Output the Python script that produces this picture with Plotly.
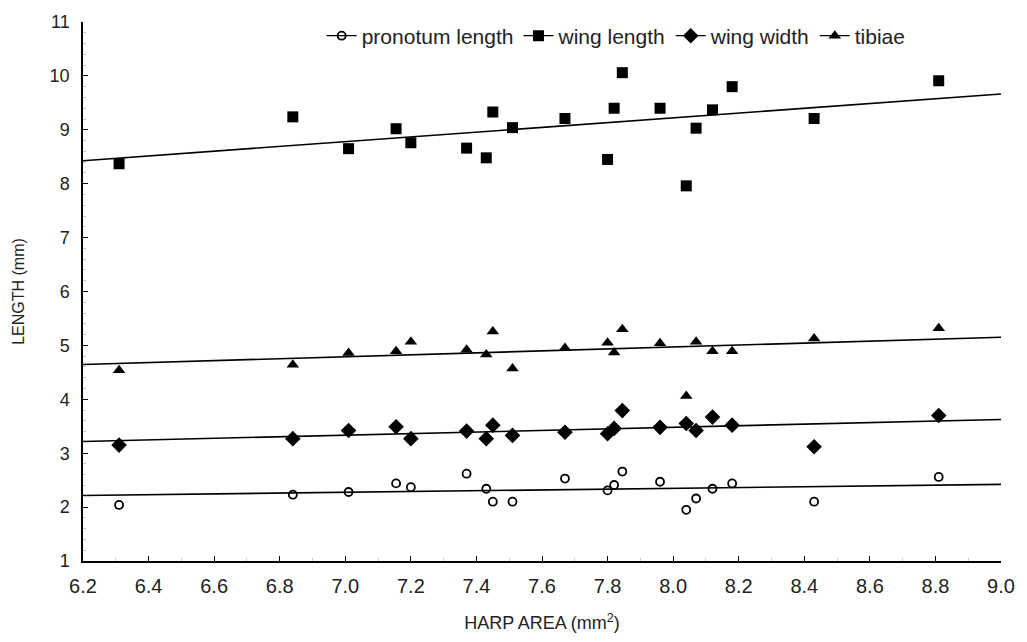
import numpy as np
import plotly.graph_objects as go

# Harp area of each specimen (mm^2)
harp_area = [6.31, 6.84, 7.01, 7.155, 7.20, 7.37, 7.43, 7.45, 7.51, 7.67,
             7.80, 7.82, 7.845, 7.96, 8.04, 8.07, 8.12, 8.18, 8.43, 8.81]

# Body measurements (mm) for the same specimens
pronotum_length = [2.04, 2.23, 2.28, 2.44, 2.37, 2.62, 2.34, 2.10, 2.10, 2.53,
                   2.31, 2.41, 2.66, 2.47, 1.95, 2.16, 2.34, 2.44, 2.10, 2.56]
wing_length = [8.37, 9.24, 8.65, 9.02, 8.76, 8.66, 8.48, 9.33, 9.04, 9.21,
               8.45, 9.40, 10.06, 9.40, 7.96, 9.03, 9.37, 9.80, 9.21, 9.91]
wing_width = [3.15, 3.27, 3.42, 3.49, 3.27, 3.41, 3.27, 3.52, 3.33, 3.39,
              3.36, 3.46, 3.79, 3.48, 3.55, 3.42, 3.67, 3.52, 3.12, 3.70]
tibiae = [4.54, 4.64, 4.86, 4.89, 5.07, 4.92, 4.83, 5.26, 4.57, 4.95,
          5.05, 4.87, 5.30, 5.04, 4.06, 5.07, 4.89, 4.89, 5.13, 5.32]

series_names = ["pronotum length", "wing length", "wing width", "tibiae"]
x_ticks = [6.2, 6.4, 6.6, 6.8, 7.0, 7.2, 7.4, 7.6, 7.8, 8.0, 8.2, 8.4, 8.6, 8.8, 9.0]
y_ticks = [1, 2, 3, 4, 5, 6, 7, 8, 9, 10, 11]

x_range = [x_ticks[0], x_ticks[-1]]
y_range = [y_ticks[0], y_ticks[-1]]

styles = [
    dict(symbol="circle-open", size=8, color="black", line=dict(width=1.8, color="black")),
    dict(symbol="square", size=11, color="black"),
    dict(symbol="diamond", size=12, color="black"),
    dict(symbol="triangle-up", size=11, color="black"),
]

fig = go.Figure()
data = [pronotum_length, wing_length, wing_width, tibiae]

for name, vals, mk in zip(series_names, data, styles):
    # least-squares fit line across the full x range
    slope, intercept = np.polyfit(harp_area, vals, 1)
    fx = np.array(x_range)
    fig.add_trace(go.Scatter(
        x=fx, y=slope * fx + intercept, mode="lines",
        line=dict(color="black", width=1.6),
        showlegend=False, hoverinfo="skip"))
    fig.add_trace(go.Scatter(
        x=harp_area, y=vals, mode="markers", marker=mk,
        showlegend=False, name=name))
    # legend entry: line with marker
    fig.add_trace(go.Scatter(
        x=[None], y=[None], mode="lines+markers", name=name,
        marker=mk, line=dict(color="black", width=1.3)))

text_color = "#222"

fig.update_layout(
    width=1027, height=642,
    margin=dict(l=83, r=19, t=21, b=80),
    paper_bgcolor="white", plot_bgcolor="white",
    font=dict(family="Liberation Sans, Arial", color=text_color),
    legend=dict(orientation="h", x=0.26, y=1.012, xanchor="left", yanchor="top",
                font=dict(family="Liberation Sans, Arial", size=21, color=text_color),
                bgcolor="rgba(0,0,0,0)", itemwidth=30, tracegroupgap=0),
    xaxis=dict(
        range=x_range, tickvals=x_ticks,
        ticktext=[f"{v:.1f}" for v in x_ticks],
        showgrid=False, zeroline=False, showline=True, linecolor="black", linewidth=1.5,
        ticks="inside", ticklen=5, tickcolor="black", tickwidth=1,
        tickfont=dict(family="Liberation Sans, Arial", size=20, color=text_color),
        ticklabelstandoff=6,
        minor=dict(ticks="inside", ticklen=3, tickcolor="#c8c8c8", dtick=0.1),
        title=dict(text="HARP AREA (mm<sup>2</sup>)",
                   font=dict(family="Liberation Sans, Arial", size=18, color=text_color),
                   standoff=21),
    ),
    yaxis=dict(
        range=y_range, tickvals=y_ticks,
        showgrid=False, zeroline=False, showline=True, linecolor="black", linewidth=1.5,
        ticks="inside", ticklen=5, tickcolor="black", tickwidth=1,
        tickfont=dict(family="Liberation Sans, Arial", size=18, color=text_color),
        ticklabelstandoff=8,
        minor=dict(ticks="inside", ticklen=3, tickcolor="#c8c8c8", dtick=0.2),
        title=dict(text="LENGTH (mm)",
                   font=dict(family="Liberation Sans, Arial", size=16, color=text_color),
                   standoff=21),
    ),
)

fig.write_html("out.html")
